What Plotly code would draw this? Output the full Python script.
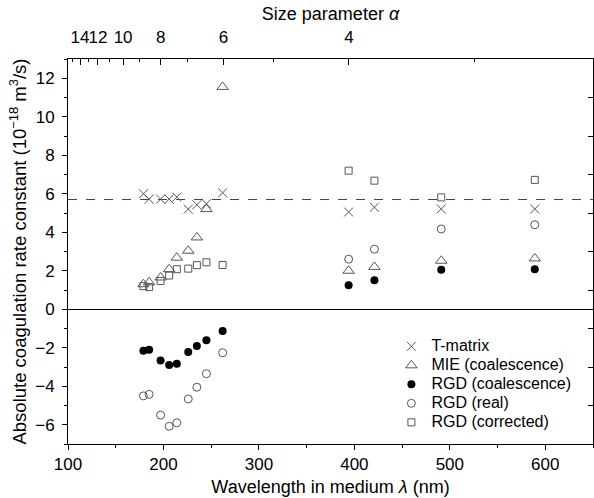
import plotly.graph_objects as go

# Wavelength in medium (nm)
wavelength = [179, 185, 197, 206, 214, 226, 235, 245, 262, 394, 421, 491, 589]

# Absolute coagulation rate constant (1e-18 m^3/s)
t_matrix = [6.0, 5.72, 5.72, 5.72, 5.83, 5.2, 5.43, 5.48, 6.05, 5.05, 5.3, 5.21, 5.21]
mie_coal = [1.3, 1.4, 1.65, 2.08, 2.68, 3.04, 3.73, 5.2, 11.55, 2.0, 2.2, 2.52, 2.64]
rgd_coal = [-2.15, -2.1, -2.66, -2.9, -2.83, -2.22, -1.91, -1.61, -1.13, 1.25, 1.51, 2.05, 2.08]
rgd_real = [-4.5, -4.42, -5.5, -6.08, -5.9, -4.66, -4.05, -3.35, -2.26, 2.6, 3.12, 4.17, 4.39]
rgd_corr = [1.2, 1.15, 1.47, 1.75, 2.08, 2.11, 2.29, 2.44, 2.3, 7.2, 6.68, 5.81, 6.72]

series_names = ["T-matrix", "MIE (coalescence)", "RGD (coalescence)", "RGD (real)", "RGD (corrected)"]

reference_level = 5.7

# Top axis: size parameter alpha = K / wavelength
alpha_const = 1577.0
alpha_major = [4, 6, 8, 10, 12, 14]
alpha_minor = [3, 5, 7, 9, 11, 13, 15]

FONT = "Arial, Liberation Sans, sans-serif"
GRAY = "#555555"


def legend_label(s):
    # full-size legend text while keeping the compact row spacing of the original
    return '<span style="font-size:16px">' + s + "</span>"


fig = go.Figure()

fig.add_trace(go.Scatter(
    x=wavelength, y=t_matrix, mode="markers", name=legend_label(series_names[0]),
    marker=dict(symbol="x-thin-open", size=9, color=GRAY, line=dict(width=1, color=GRAY))))
fig.add_trace(go.Scatter(
    x=wavelength, y=mie_coal, mode="markers", name=legend_label(series_names[1]),
    marker=dict(symbol="triangle-up-open", size=10, color=GRAY, line=dict(width=1, color=GRAY))))
fig.add_trace(go.Scatter(
    x=wavelength, y=rgd_coal, mode="markers", name=legend_label(series_names[2]),
    marker=dict(symbol="circle", size=8, color="black", line=dict(width=0))))
fig.add_trace(go.Scatter(
    x=wavelength, y=rgd_real, mode="markers", name=legend_label(series_names[3]),
    marker=dict(symbol="circle-open", size=8, color=GRAY, line=dict(width=1, color=GRAY))))
fig.add_trace(go.Scatter(
    x=wavelength, y=rgd_corr, mode="markers", name=legend_label(series_names[4]),
    marker=dict(symbol="square-open", size=7, color=GRAY, line=dict(width=1, color=GRAY))))

# empty helper traces so the top (alpha) and right axes are drawn
fig.add_trace(go.Scatter(x=[], y=[], xaxis="x2", yaxis="y", showlegend=False, hoverinfo="skip"))
fig.add_trace(go.Scatter(x=[], y=[], xaxis="x", yaxis="y2", showlegend=False, hoverinfo="skip"))

fig.add_hline(y=reference_level, line=dict(color="#444444", width=1, dash="dash"), layer="below")

xrange = [100, 650]
yrange = [-7, 13]

fig.update_layout(
    width=594, height=498,
    margin=dict(l=68, r=1, t=59, b=54, autoexpand=False),
    paper_bgcolor="white", plot_bgcolor="white",
    font=dict(family=FONT, size=17, color="black"),
    showlegend=True,
    legend=dict(x=0.616, xanchor="left", y=0.155, yanchor="middle",
                bgcolor="rgba(0,0,0,0)", font=dict(size=12, family=FONT),
                itemwidth=30),
    xaxis=dict(
        range=xrange, tickmode="linear", tick0=100, dtick=100, automargin=False,
        ticks="outside", ticklen=5, tickwidth=1, tickcolor="black",
        minor=dict(tick0=100, dtick=50, ticks="outside", ticklen=3, tickcolor="black"),
        showline=True, linecolor="black", linewidth=1, showgrid=False, zeroline=False,
        tickfont=dict(size=17), tickangle=0,
        title=dict(text="Wavelength in medium <i>λ</i> (nm)", font=dict(size=18), standoff=6),
    ),
    xaxis2=dict(
        range=xrange, overlaying="x", side="top", anchor="y", automargin=False,
        tickmode="array",
        tickvals=[alpha_const / a for a in alpha_major],
        ticktext=[str(a) for a in alpha_major],
        ticks="inside", ticklen=6, tickwidth=1, tickcolor="black",
        minor=dict(tickmode="array", tickvals=[alpha_const / a for a in alpha_minor],
                   ticks="inside", ticklen=3, tickcolor="black"),
        showline=True, linecolor="black", linewidth=1, showgrid=False, zeroline=False,
        tickfont=dict(size=17), tickangle=0, ticklabelstandoff=8,
        title=dict(text="Size parameter <i>α</i>", font=dict(size=18), standoff=2),
    ),
    yaxis=dict(
        range=yrange, tickmode="linear", tick0=0, dtick=2, automargin=False,
        ticks="outside", ticklen=5, tickwidth=1, tickcolor="black",
        minor=dict(tick0=0, dtick=1, ticks="outside", ticklen=3, tickcolor="black"),
        showline=True, linecolor="black", linewidth=1, showgrid=False,
        zeroline=True, zerolinecolor="black", zerolinewidth=1,
        tickfont=dict(size=17), ticklabelstandoff=4,
        title=dict(text="Absolute coagulation rate constant (10<sup>−18</sup> m<sup>3</sup>/s)",
                   font=dict(size=18.5), standoff=3),
    ),
    yaxis2=dict(
        range=yrange, overlaying="y", side="right", anchor="x", automargin=False,
        tickmode="array", tickvals=[-7, -5, -3, -1, 1, 3, 5, 7, 9, 11],
        ticks="inside", ticklen=5, tickwidth=1, tickcolor="black",
        showticklabels=False,
        showline=True, linecolor="black", linewidth=1, showgrid=False, zeroline=False,
    ),
)

fig.write_html("out.html", config={"displayModeBar": False},
               post_script="document.body.style.margin='0';")
